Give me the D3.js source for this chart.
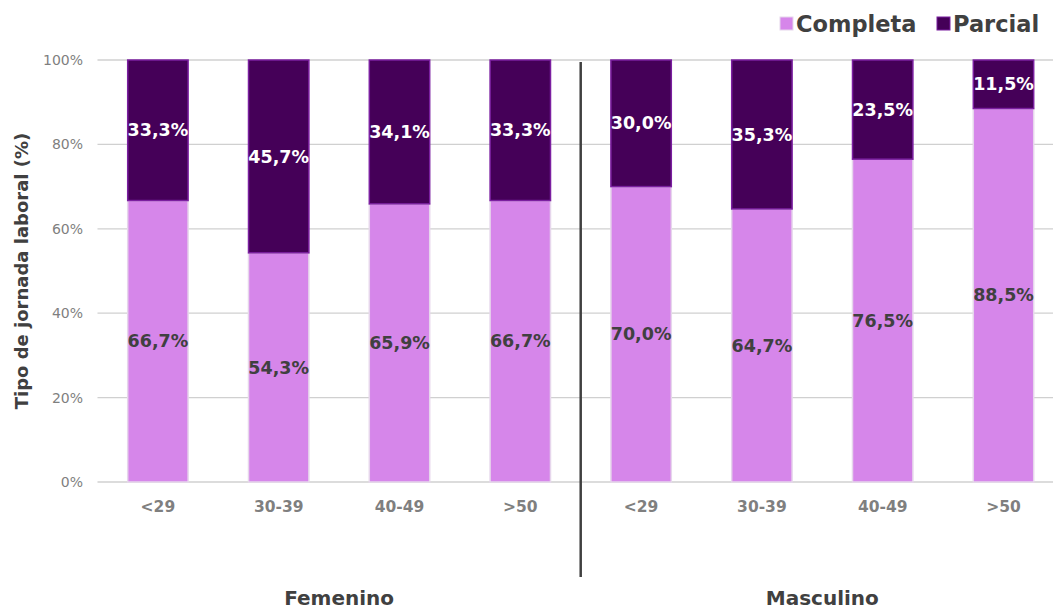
<!DOCTYPE html>
<html>
<head>
<meta charset="utf-8">
<script src="https://cdn.jsdelivr.net/npm/d3@7"></script>
<style>
  html, body { margin: 0; padding: 0; background: #fff; }
  svg { display: block; }
  text { font-family: "DejaVu Sans", sans-serif; }
</style>
</head>
<body>
<svg id="chart" width="1053" height="610"></svg>
<script>
// Working-day type by age group and sex
const groups = ["Femenino", "Masculino"];
const ageLabels = ["<29", "30-39", "40-49", ">50"];
const completa = [66.7, 54.3, 65.9, 66.7, 70.0, 64.7, 76.5, 88.5];
const parcial  = [33.3, 45.7, 34.1, 33.3, 30.0, 35.3, 23.5, 11.5];
const yTicks = [0, 20, 40, 60, 80, 100];

const seriesNames = ["Completa", "Parcial"];
const colors = { Completa: "#d686ea", Parcial: "#450058" };
const strokes = { Completa: "#e6d6ec", Parcial: "#7b1fa0" };

const keys = [];
groups.forEach(g => ageLabels.forEach(a => keys.push(g + "|" + a)));
const rows = keys.map((k, i) => ({ key: k, age: k.split("|")[1], group: k.split("|")[0], Completa: completa[i], Parcial: parcial[i] }));

const svg = d3.select("#chart");
const plotLeft = 97.5, plotTop = 60, plotBottom = 482;
const band = 120.8;

const x = d3.scaleBand().domain(keys).range([plotLeft, plotLeft + band * keys.length]).paddingInner(0.5).paddingOuter(0.25);
const y = d3.scaleLinear().domain([0, 100]).range([plotBottom, plotTop]);

// Gridlines
svg.append("g").selectAll("line").data(yTicks).join("line")
  .attr("x1", plotLeft).attr("x2", 1053)
  .attr("y1", d => y(d)).attr("y2", d => y(d))
  .attr("stroke", "#d0d0d0").attr("stroke-width", 1.3);

// Y tick labels
svg.append("g").selectAll("text").data(yTicks).join("text")
  .attr("x", 83).attr("y", d => y(d)).attr("dy", "0.35em")
  .attr("text-anchor", "end").attr("fill", "#7f7f7f")
  .style("font-size", "14px")
  .text(d => d + "%");

// Y axis title
svg.append("text")
  .attr("transform", "translate(28," + ((plotTop + plotBottom) / 2) + ") rotate(-90)")
  .attr("text-anchor", "middle").attr("fill", "#404040")
  .style("font-size", "18px").style("font-weight", "bold")
  .text("Tipo de jornada laboral (%)");

// Stacked bars
const stack = d3.stack().keys(seriesNames)(rows);
const layers = svg.append("g").selectAll("g").data(stack).join("g")
  .attr("fill", d => colors[d.key]).attr("stroke", d => strokes[d.key]).attr("stroke-width", 1.5);
layers.selectAll("rect").data(d => d).join("rect")
  .attr("x", d => x(d.data.key))
  .attr("width", x.bandwidth())
  .attr("y", d => y(d[1]))
  .attr("height", d => y(d[0]) - y(d[1]));

// Value labels
const fmt = v => v.toFixed(1).replace(".", ",") + "%";
stack.forEach(layer => {
  svg.append("g").selectAll("text").data(layer).join("text")
    .attr("x", d => x(d.data.key) + x.bandwidth() / 2)
    .attr("y", d => y((d[0] + d[1]) / 2))
    .attr("dy", "0.35em").attr("text-anchor", "middle")
    .attr("fill", layer.key === "Parcial" ? "#ffffff" : "#404040")
    .style("font-size", "17.5px").style("font-weight", "bold")
    .text(d => fmt(d.data[layer.key]));
});

// Category labels
svg.append("g").selectAll("text").data(rows).join("text")
  .attr("x", d => x(d.key) + x.bandwidth() / 2)
  .attr("y", 507).attr("dy", "0.35em").attr("text-anchor", "middle")
  .attr("fill", "#7f7f7f").style("font-size", "15.5px").style("font-weight", "bold")
  .text(d => d.age);

// Group separator
const sepX = (x(keys[3]) + x.bandwidth() + x(keys[4])) / 2;
svg.append("line")
  .attr("x1", sepX).attr("x2", sepX).attr("y1", 62).attr("y2", 577)
  .attr("stroke", "#404040").attr("stroke-width", 2.5);

// Group labels
groups.forEach((g, gi) => {
  const first = x(keys[gi * 4]), last = x(keys[gi * 4 + 3]) + x.bandwidth();
  svg.append("text")
    .attr("x", (first + last) / 2).attr("y", 605)
    .attr("text-anchor", "middle").attr("fill", "#404040")
    .style("font-size", "20px").style("font-weight", "bold")
    .text(g);
});

// Legend
const legend = svg.append("g");
const legendItems = [{ name: "Completa", x: 780 }, { name: "Parcial", x: 937 }];
legendItems.forEach(it => {
  legend.append("rect").attr("x", it.x).attr("y", 17).attr("width", 13).attr("height", 13)
    .attr("fill", colors[it.name]).attr("stroke", strokes[it.name]);
  legend.append("text").attr("x", it.x + 16).attr("y", 24).attr("dy", "0.35em")
    .attr("fill", "#404040").style("font-size", "22.5px").style("font-weight", "bold")
    .text(it.name);
});
</script>
</body>
</html>
